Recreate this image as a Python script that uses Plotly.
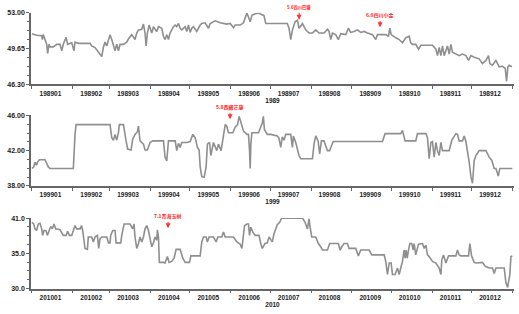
import plotly.graph_objects as go
import pandas as pd

# ---------------- data (day offset within year, value) ----------------
days_1989 = [0, 3.5, 7.4, 7.9, 8.6, 9.9, 11.2, 11.9, 12.9, 13.7, 16.2, 18.8, 21.3, 22.6, 23.8, 25.9, 27.1, 30.2, 31.9, 32.7,
             35.2, 44.1, 45.4, 47.9, 49.2, 51.7, 53.0, 54.2, 55.5, 56.8, 59.3, 60.6, 63.1, 64.4, 65.7, 66.9, 69.5, 72.0, 73.3, 75.8,
             78.3, 79.6, 80.9, 83.4, 84.7, 85.9, 86.7, 87.7, 89.0, 91.0, 92.3, 93.5, 94.8, 96.1, 98.6, 99.9, 101.1, 102.4, 103.7, 104.9,
             106.2, 107.5, 108.8, 110.0, 111.3, 112.6, 113.8, 116.4, 117.6, 118.9, 120.2, 121.4, 122.7, 125.2, 127.8, 129.0, 131.6, 132.8, 134.1, 135.4,
             139.2, 143.0, 145.5, 148.0, 150.6, 153.1, 154.4, 158.2, 160.7, 163.3, 164.5, 165.8, 167.1, 169.6, 172.1, 176.3, 177.6, 194.0, 195.3, 196.6,
             197.9, 199.9, 201.7, 202.9, 204.2, 205.5, 208.0, 210.5, 213.1, 215.6, 218.1, 221.9, 224.5, 225.7, 227.0, 228.3, 230.8, 232.8, 234.6, 238.4,
             240.4, 242.2, 244.7, 247.3, 249.8, 252.4, 254.9, 258.7, 261.2, 262.5, 268.8, 270.9, 271.9, 272.9, 276.4, 279.0, 281.5, 284.0, 286.6, 287.8,
             289.1, 291.6, 293.7, 295.5, 304.3, 306.9, 308.1, 309.4, 310.7, 311.9, 313.2, 315.7, 317.0, 318.3, 319.5, 322.1, 324.6, 327.1, 329.7, 331.7,
             333.5, 336.0, 339.8, 342.3, 344.9, 346.9, 347.9, 349.9, 352.5, 355.0, 357.6, 359.6, 360.6, 361.6, 362.6, 364.7]
price_1989 = [51.04, 50.89, 50.86, 50.49, 50.95, 50.49, 50.04, 49.19, 50.04, 49.80, 49.80, 50.04, 50.04, 49.44, 50.04, 50.70, 50.04, 50.19, 49.44, 50.25,
              50.13, 50.13, 49.89, 49.74, 49.50, 49.13, 48.89, 49.74, 50.25, 49.89, 50.95, 50.49, 49.44, 50.04, 49.44, 50.04, 50.04, 50.25, 50.55, 50.95,
              50.49, 51.10, 51.40, 51.46, 51.94, 51.10, 49.89, 51.10, 51.85, 51.10, 51.70, 51.46, 51.25, 51.70, 51.55, 50.80, 50.49, 50.95, 50.49, 51.10,
              51.40, 51.70, 51.85, 51.70, 52.00, 51.55, 51.40, 51.70, 51.25, 51.85, 51.16, 51.55, 51.70, 51.25, 51.85, 52.00, 52.06, 51.85, 51.55, 52.00,
              52.25, 52.06, 52.00, 51.94, 52.00, 51.61, 51.85, 51.85, 52.06, 52.97, 52.61, 52.15, 52.76, 52.91, 52.97, 52.73, 52.00, 52.00, 51.55, 50.49,
              51.40, 52.15, 52.30, 51.55, 51.76, 52.00, 51.40, 51.10, 51.10, 51.40, 51.10, 51.10, 51.46, 51.25, 50.49, 51.10, 50.95, 50.49, 51.04, 50.95,
              51.55, 51.16, 51.25, 51.40, 51.16, 51.25, 51.10, 50.95, 50.49, 50.95, 50.95, 50.80, 51.55, 50.95, 50.65, 50.49, 50.19, 50.65, 50.80, 50.19,
              50.04, 50.04, 49.59, 49.95, 49.95, 49.59, 48.98, 49.74, 48.98, 49.89, 48.98, 49.89, 49.13, 50.04, 49.29, 49.13, 48.98, 49.13, 48.98, 48.53,
              48.98, 48.83, 48.68, 48.23, 48.53, 48.98, 48.23, 48.08, 48.53, 47.93, 47.98, 47.78, 46.57, 47.93, 48.08, 47.93]

days_1999 = [0, 1.3, 2.3, 3.5, 4.3, 5.6, 9.9, 12.4, 13.7, 31.4, 32.7, 33.5, 59.3, 60.6, 61.9, 63.1, 64.4, 65.7, 66.4, 69.5,
             71.5, 72.7, 75.3, 76.5, 78.3, 80.1, 80.9, 81.6, 82.1, 84.7, 85.9, 87.7, 89.7, 91.8, 99.9, 101.1, 102.4, 103.7, 108.8, 110.0,
             111.3, 112.6, 113.8, 117.6, 120.2, 122.2, 124.0, 125.7, 127.0, 127.8, 129.0, 130.8, 132.3, 133.3, 134.9, 135.9, 136.6, 137.9, 140.4, 141.7,
             143.7, 145.0, 146.8, 148.0, 149.3, 152.6, 154.4, 156.2, 157.4, 158.7, 160.7, 163.3, 164.5, 165.3, 165.8, 166.3, 167.1, 172.1, 175.0, 175.8,
             176.6, 178.8, 181.4, 186.4, 187.7, 189.0, 190.2, 191.5, 192.8, 196.6, 197.9, 198.6, 200.4, 202.9, 204.2, 213.1, 214.3, 215.6, 217.4, 218.6,
             219.9, 221.9, 224.5, 226.2, 228.8, 266.3, 268.3, 280.2, 281.5, 283.5, 291.6, 292.9, 299.3, 300.5, 301.8, 303.1, 304.3, 305.6, 306.9, 308.1,
             309.4, 310.7, 311.9, 317.0, 319.0, 322.1, 323.3, 324.6, 327.1, 328.4, 329.7, 332.2, 333.5, 334.7, 336.0, 337.3, 339.8, 344.9, 347.4, 349.4,
             351.2, 352.5, 354.3, 355.5, 365.0]
price_1999 = [39.97, 40.15, 40.70, 40.34, 40.70, 40.97, 40.97, 40.15, 39.97, 39.97, 43.85, 44.96, 44.96, 43.48, 43.19, 43.85, 43.19, 44.04, 44.96, 44.96,
              43.11, 42.19, 42.08, 43.30, 43.85, 44.15, 44.78, 43.85, 43.11, 42.74, 42.08, 42.08, 42.93, 43.11, 43.11, 41.26, 40.82, 43.11, 43.11, 42.00,
              42.82, 42.37, 42.93, 42.93, 43.04, 43.85, 43.48, 42.37, 42.08, 40.15, 39.04, 38.97, 40.15, 42.74, 42.93, 41.45, 42.00, 42.93, 42.00, 42.74,
              42.00, 43.48, 44.96, 44.78, 44.04, 44.04, 44.67, 44.96, 45.89, 45.26, 44.22, 43.85, 43.85, 42.00, 39.97, 42.74, 44.04, 44.04, 45.15, 45.89,
              44.41, 43.85, 43.85, 43.67, 43.41, 42.37, 43.56, 43.19, 43.85, 43.85, 42.37, 43.67, 42.93, 41.45, 41.08, 41.08, 42.74, 43.67, 43.11, 41.63,
              43.11, 43.11, 42.00, 42.00, 43.04, 43.04, 43.93, 43.93, 44.30, 43.11, 43.11, 43.93, 43.93, 43.48, 41.08, 42.93, 43.04, 41.26, 42.93, 42.00,
              41.45, 42.93, 42.00, 42.00, 43.19, 43.93, 43.85, 43.11, 43.11, 43.67, 43.04, 40.71, 39.04, 38.30, 40.89, 41.45, 42.00, 42.00, 41.26, 40.89,
              39.97, 39.97, 39.12, 39.97, 39.97]

days_2010 = [0, 1.3, 2.3, 3.5, 4.8, 6.1, 7.4, 8.1, 9.1, 10.6, 11.7, 12.9, 14.2, 15.5, 16.7, 18.0, 21.3, 23.8, 25.9, 27.1,
             28.4, 30.2, 31.4, 32.7, 34.0, 36.5, 37.7, 38.5, 39.5, 40.3, 42.1, 42.8, 45.4, 46.6, 47.9, 49.7, 50.7, 51.7, 53.0, 56.8,
             58.1, 59.3, 59.8, 61.4, 63.1, 63.9, 67.5, 68.2, 70.0, 74.5, 76.5, 77.5, 78.3, 79.6, 80.9, 82.1, 83.4, 84.7, 85.9, 87.2,
             88.5, 89.7, 91.0, 92.3, 93.5, 94.8, 95.3, 96.1, 96.8, 99.9, 101.1, 102.9, 104.2, 106.2, 108.0, 109.5, 112.6, 114.6, 116.4, 119.7,
             120.7, 127.8, 129.0, 130.3, 132.3, 133.3, 134.6, 137.9, 139.9, 141.2, 144.2, 145.5, 146.8, 153.1, 155.7, 158.2, 159.5, 161.5, 163.3, 164.5,
             165.3, 166.3, 167.8, 169.6, 172.5, 173.8, 175.0, 177.1, 178.8, 180.1, 181.4, 182.6, 183.9, 185.2, 186.4, 188.2, 189.7, 205.5, 207.5, 209.3,
             210.5, 211.3, 212.6, 215.6, 217.6, 219.4, 220.7, 224.5, 226.2, 232.8, 234.1, 235.4, 237.1, 239.7, 240.9, 246.0, 248.0, 249.8, 256.2, 258.2,
             267.6, 268.8, 270.1, 271.4, 272.9, 273.9, 275.9, 277.7, 279.0, 280.2, 281.5, 282.8, 283.5, 284.3, 285.1, 286.1, 287.1, 288.6, 289.6, 290.4,
             291.6, 293.7, 296.7, 298.0, 299.3, 300.5, 301.8, 304.3, 306.9, 309.4, 310.7, 311.4, 312.7, 314.5, 316.5, 322.1, 323.3, 324.6, 325.9, 331.7,
             332.7, 334.0, 336.0, 337.3, 339.8, 342.3, 344.4, 347.4, 349.9, 351.2, 352.5, 358.8, 360.1, 361.4, 363.1, 363.9, 365.0]
price_2010 = [40.34, 40.08, 39.32, 39.07, 40.08, 40.19, 39.32, 38.30, 39.07, 39.07, 38.30, 39.07, 39.68, 39.32, 40.08, 39.32, 39.17, 38.30, 38.30, 38.96,
              38.30, 38.30, 39.07, 39.83, 39.32, 39.32, 39.83, 39.07, 37.54, 36.27, 36.11, 38.05, 38.05, 37.28, 38.05, 38.30, 36.27, 37.79, 38.05, 38.05,
              37.13, 37.13, 38.30, 39.07, 39.07, 37.13, 37.13, 38.30, 40.08, 40.08, 39.32, 40.08, 38.05, 36.27, 37.03, 38.05, 37.28, 38.05, 39.32, 39.83,
              39.07, 38.05, 36.52, 37.13, 38.05, 37.54, 39.17, 38.05, 34.08, 34.08, 33.98, 34.99, 34.08, 34.23, 34.74, 36.11, 36.11, 34.74, 34.08, 34.08,
              35.10, 35.10, 37.28, 38.05, 38.05, 37.28, 38.05, 38.05, 37.28, 38.05, 38.05, 38.81, 38.05, 38.05, 37.28, 36.93, 36.27, 39.83, 40.08, 40.08,
              38.30, 39.58, 38.81, 38.30, 38.30, 37.03, 36.27, 37.03, 37.13, 38.05, 37.54, 37.28, 38.56, 39.32, 39.98, 40.34, 41.00, 41.00, 40.34, 39.32,
              40.90, 39.58, 38.05, 38.05, 37.03, 36.52, 36.01, 36.01, 37.03, 37.03, 36.01, 36.52, 37.03, 37.03, 36.27, 36.27, 35.10, 36.01, 36.01, 35.25,
              35.25, 34.23, 32.19, 33.98, 33.98, 32.19, 32.19, 33.21, 32.19, 33.21, 34.23, 36.01, 34.74, 36.01, 34.74, 36.01, 37.03, 37.03, 36.01, 37.03,
              35.25, 36.93, 37.03, 36.27, 36.78, 35.25, 34.99, 34.23, 33.98, 33.21, 32.19, 34.48, 35.25, 33.98, 35.10, 35.10, 36.01, 35.25, 35.10, 35.10,
              37.03, 35.10, 34.08, 33.98, 34.08, 34.08, 33.47, 33.21, 33.21, 32.34, 33.21, 33.21, 30.92, 30.16, 32.19, 34.99, 35.10]

years = [1989, 1999, 2010]
y_ranges = {1989: (46.30, 53.00), 1999: (38.00, 46.00), 2010: (30.0, 41.0)}
y_ticks = {1989: [46.30, 49.65, 53.00], 1999: [38.00, 42.00, 46.00], 2010: [30.0, 35.5, 41.0]}
y_ticktext = {1989: ["46.30", "49.65", "53.00"], 1999: ["38.00", "42.00", "46.00"], 2010: ["30.0", "35.0", "41.0"]}
series = {1989: (days_1989, price_1989), 1999: (days_1999, price_1999), 2010: (days_2010, price_2010)}

# events: (year, day offset, value at arrow tip, label)
event_year = [1989, 1989, 1999, 2010]
event_day = [203, 264.5, 150.5, 103.4]
event_val = [52.35, 51.64, 45.56, 39.40]
event_text = ["5.6四川巴塘", "6.6四川小金", "5.8西藏芒康", "7.1青海玉树"]
event_size = [4.3, 5, 5, 5]

# ---------------- layout geometry ----------------
W, H = 519, 314
x_dom = [31 / W, 514 / W]
y_doms = {1989: [1 - 82 / H, 1 - 9 / H], 1999: [1 - 186 / H, 1 - 114 / H], 2010: [1 - 291 / H, 1 - 219 / H]}

FONT = "Liberation Sans, Arial, sans-serif"
LINE = "#8f8f8f"
AXC = "#666666"

fig = go.Figure()
layout = dict(width=W, height=H, margin=dict(l=0, r=0, t=0, b=0),
              paper_bgcolor="white", plot_bgcolor="white", showlegend=False,
              font=dict(family=FONT, color="#222"))
annotations = []

for i, yr in enumerate(years, start=1):
    sfx = "" if i == 1 else str(i)
    base = pd.Timestamp(f"{yr}-01-01")
    d, v = series[yr]
    xs = base + pd.to_timedelta(d, unit="D")
    fig.add_trace(go.Scatter(x=xs, y=v, mode="lines", line=dict(color=LINE, width=1.6),
                             xaxis="x" + sfx, yaxis="y" + sfx, hoverinfo="skip"))
    mids = [pd.Timestamp(f"{yr}-{m:02d}-15") for m in range(1, 13)]
    starts = [pd.Timestamp(f"{yr}-{m:02d}-01") for m in range(1, 13)] + [pd.Timestamp(f"{yr + 1}-01-01")]
    lo, hi = y_ranges[yr]
    layout["xaxis" + sfx] = dict(
        domain=x_dom, anchor="y" + sfx, type="date",
        range=[base - pd.Timedelta(hours=18), base + pd.Timedelta(days=366, hours=6)],
        tickmode="array", tickvals=mids, ticktext=[f"{yr}{m:02d}" for m in range(1, 13)],
        ticks="", showgrid=False, zeroline=False, showline=True, linecolor=AXC, linewidth=1.5,
        tickfont=dict(family=FONT, size=6.5, color="#222", weight="bold"), ticklabelstandoff=2,
        minor=dict(tickmode="array", tickvals=starts, ticks="outside", ticklen=3, tickcolor=AXC,
                   tickwidth=1, showgrid=False),
        title=dict(text=str(yr), font=dict(family=FONT, size=6.5, color="#222", weight="bold"), standoff=1),
    )
    layout["yaxis" + sfx] = dict(
        domain=y_doms[yr], anchor="x" + sfx, range=[lo, hi],
        tickmode="array", tickvals=y_ticks[yr], ticktext=y_ticktext[yr],
        ticks="outside", ticklen=3, tickcolor=AXC, showgrid=False, zeroline=False,
        showline=True, linecolor=AXC, linewidth=1.5,
        tickfont=dict(family=FONT, size=7, color="#222", weight="bold"),
        minor=dict(tick0=lo, dtick=(hi - lo) / 8, ticks="outside", ticklen=2, tickcolor=AXC, showgrid=False),
    )

for yr, dd, vv, tt, fs in zip(event_year, event_day, event_val, event_text, event_size):
    i = years.index(yr) + 1
    sfx = "" if i == 1 else str(i)
    annotations.append(dict(
        x=pd.Timestamp(f"{yr}-01-01") + pd.Timedelta(days=dd), y=vv, xref="x" + sfx, yref="y" + sfx,
        text=tt, showarrow=True, arrowhead=2, arrowsize=1, arrowwidth=1, arrowcolor="#ff3333",
        ax=0, ay=-12, font=dict(family="Noto Sans CJK SC", size=fs, color="#ff2222", weight="bold"),
    ))

layout["annotations"] = annotations
fig.update_layout(**layout)
fig.write_html("out.html", config={"displayModeBar": False},
               post_script="document.body.style.margin='0';document.body.style.overflow='hidden';")
